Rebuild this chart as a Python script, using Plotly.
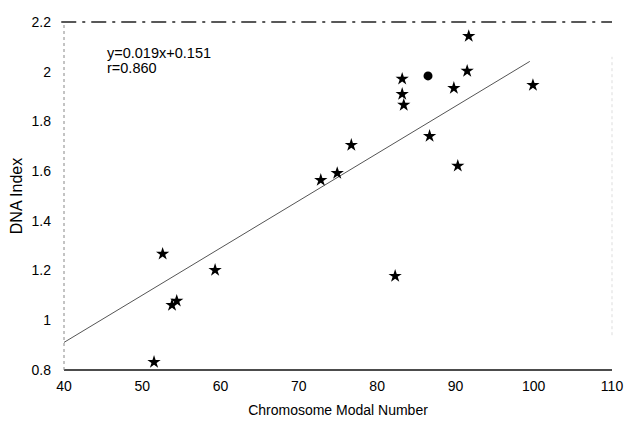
import plotly.graph_objects as go

# Data
star_x = [91.7, 91.5, 89.8, 83.2, 83.2, 83.4, 99.9, 86.7, 90.3, 76.7, 74.9, 72.8,
          52.6, 59.3, 82.3, 53.8, 54.4, 51.5]
star_y = [2.143, 2.003, 1.934, 1.971, 1.910, 1.866, 1.946, 1.741, 1.621, 1.705, 1.592, 1.564,
          1.267, 1.202, 1.178, 1.061, 1.078, 0.832]
circle_x = [86.5]
circle_y = [1.983]

slope = 0.019
intercept = 0.151
fit_x = [40, 99.5]
fit_y = [slope * v + intercept for v in fit_x]

x_ticks = [40, 50, 60, 70, 80, 90, 100, 110]
y_ticks = [0.8, 1.0, 1.2, 1.4, 1.6, 1.8, 2.0, 2.2]
y_tick_text = ["0.8", "1", "1.2", "1.4", "1.6", "1.8", "2", "2.2"]
note_lines = ["y=0.019x+0.151", "r=0.860"]

font_family = "Liberation Sans, Arial, sans-serif"

fig = go.Figure()
fig.add_trace(go.Scatter(x=fit_x, y=fit_y, mode="lines",
                         line=dict(color="#555555", width=1), hoverinfo="skip",
                         showlegend=False, cliponaxis=False))
fig.add_trace(go.Scatter(x=star_x, y=star_y, mode="markers",
                         marker=dict(symbol="star", size=10, color="black",
                                     line=dict(width=0)),
                         showlegend=False, cliponaxis=False))
fig.add_trace(go.Scatter(x=circle_x, y=circle_y, mode="markers",
                         marker=dict(symbol="circle", size=9, color="black"),
                         showlegend=False, cliponaxis=False))

# Frame
fig.add_shape(type="line", xref="paper", yref="paper", x0=-0.005, x1=1, y0=1, y1=1,
              line=dict(color="#222222", width=1.5, dash="longdashdot"))
fig.add_shape(type="line", xref="paper", yref="paper", x0=0, x1=1, y0=0, y1=0,
              line=dict(color="#111111", width=1.5))
fig.add_shape(type="line", xref="paper", yref="paper", x0=0, x1=0, y0=0, y1=1,
              line=dict(color="#888888", width=1, dash="dot"))
fig.add_shape(type="line", xref="paper", yref="paper", x0=1, x1=1, y0=0.1, y1=0.9,
              line=dict(color="#dddddd", width=1, dash="dot"))

for txt, ypos in zip(note_lines, [0.911, 0.868]):
    fig.add_annotation(xref="paper", yref="paper", x=0.075, y=ypos, xanchor="left",
                       yanchor="middle", align="left", showarrow=False, text=txt,
                       font=dict(family=font_family, size=14.5, color="black"))

fig.update_layout(
    width=628, height=423,
    margin=dict(l=64, r=16, t=22, b=53),
    paper_bgcolor="white", plot_bgcolor="white",
    font=dict(family=font_family, size=14, color="black"),
    xaxis=dict(range=[40, 110], tickvals=x_ticks, showgrid=False, zeroline=False,
               showline=False, ticks="", ticklabelstandoff=6, automargin=False,
               title=dict(text="Chromosome Modal Number", standoff=12,
                          font=dict(size=14))),
    yaxis=dict(range=[0.8, 2.2], tickvals=y_ticks, ticktext=y_tick_text,
               showgrid=False, zeroline=False, showline=False, ticks="",
               ticklabelstandoff=12, automargin=False,
               title=dict(text="DNA Index", standoff=4, font=dict(size=16))),
)

fig.write_html("out.html", config={"displayModeBar": False},
               post_script="document.body.style.margin='0';document.body.style.overflow='hidden';")
